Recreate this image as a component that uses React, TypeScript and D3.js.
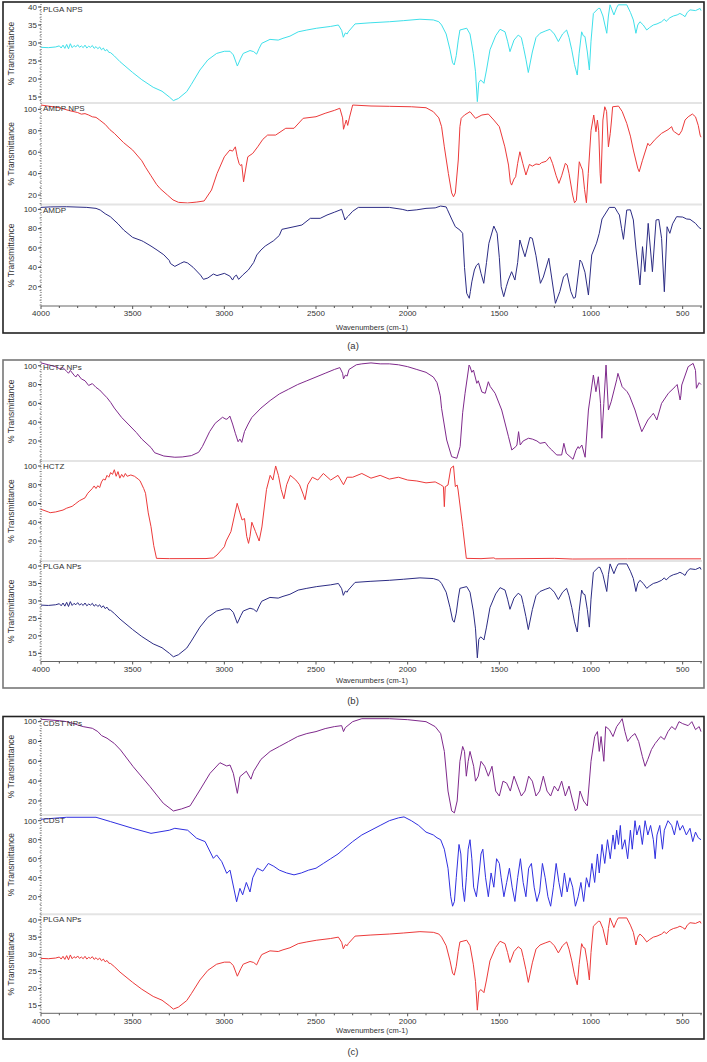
import React from "react";
import * as d3 from "d3";

// ---------- DATA ----------
const xTicks = [4000, 3500, 3000, 2500, 2000, 1500, 1000, 500];
const yTicks40 = [15, 20, 25, 30, 35, 40];
const yTicks100 = [20, 40, 60, 80, 100];

const plgaWn = [4000,3960,3920,3900,3890,3880,3870,3860,3850,3840,3830,3820,3810,3800,3790,3780,3770,3760,3750,3740,3730,3720,3710,3700,3690,3680,3670,3660,3650,3640,3630,3620,3600,3569,3500,3450,3388,3340,3300,3278,3250,3205,3180,3133,3090,3042,3000,2969,2951,2929,2910,2897,2860,2840,2824,2810,2796,2751,2706,2680,2642,2597,2550,2496,2420,2378,2360,2351,2340,2330,2324,2287,2205,2100,2024,1933,1860,1830,1815,1790,1769,1755,1746,1735,1724,1715,1678,1660,1642,1630,1620,1612,1602,1590,1584,1570,1551,1520,1496,1469,1455,1442,1420,1397,1380,1369,1355,1342,1320,1300,1278,1250,1224,1200,1178,1155,1133,1120,1105,1090,1075,1065,1051,1042,1033,1020,1009,1000,987,960,951,935,914,905,896,875,860,851,805,785,769,755,745,733,715,696,680,660,640,615,600,590,570,551,530,515,500,487,475,460,430,405,400];
const plgaT = [28.8,28.7,28.9,29.2,28.6,29.4,28.5,29.6,28.4,29.8,28.7,29.3,28.9,29.5,28.8,29.2,28.7,29.4,28.6,29.1,28.8,29.3,28.5,29.0,28.4,28.9,28.1,28.6,27.8,28.2,27.4,27.3,26.4,24.8,21.8,19.8,17.7,16.6,15.0,14.0,14.6,16.5,18.5,22.5,25.3,27.1,27.7,27.7,26.7,23.6,25.8,27.1,27.9,27.6,26.9,28.5,29.9,31.0,30.8,31.3,31.9,33.1,33.6,34.1,34.6,35.0,33.5,31.6,32.8,32.5,33.1,35.3,35.6,35.9,36.2,36.6,36.4,35.9,35.0,32.5,28.1,24.5,23.9,26.5,30.8,33.6,34.1,32.5,27.1,22,13.7,19,19.7,19.2,18.8,22.5,28.1,32.0,33.8,33.1,30.5,27.6,30.8,32.2,31.5,29.0,25.5,21.8,27.5,31.5,32.7,33.3,33.8,32.5,30.4,32.5,33.6,31.5,28.1,24.0,21.1,27.0,33.1,32.0,31.8,27.5,22.5,30.5,38.2,39.6,39.6,37.5,32.7,37.5,40.6,37.8,39.8,40.6,40.6,38.5,36.4,32.7,35.0,35.9,35.0,33.6,34.3,35.0,35.3,35.9,36.6,36.0,37.0,37.5,37.8,38.2,37.8,37.3,38.5,39.2,39.0,39.6,39.0];

const amdpNpWn = [4000,3900,3850,3800,3780,3760,3740,3720,3700,3680,3650,3624,3600,3550,3500,3450,3430,3400,3370,3350,3310,3280,3250,3200,3150,3110,3070,3040,3000,2970,2955,2940,2930,2920,2912,2905,2895,2880,2872,2845,2818,2790,2764,2720,2665,2620,2570,2500,2450,2400,2370,2355,2350,2342,2335,2327,2318,2300,2200,2100,1980,1900,1860,1830,1815,1800,1778,1760,1750,1740,1724,1715,1708,1690,1660,1630,1595,1560,1530,1500,1470,1450,1440,1433,1420,1411,1400,1388,1372,1355,1336,1320,1300,1282,1270,1245,1224,1210,1190,1175,1160,1140,1130,1120,1100,1090,1080,1064,1055,1046,1035,1025,1015,1000,985,973,965,958,950,946,935,925,915,905,895,888,882,850,830,805,785,769,745,737,720,690,680,650,615,580,560,552,545,520,505,487,470,447,430,415,405,400];
const amdpNpT = [104,101.5,99,97,95.5,96,94.7,93,92.5,90,86,81,77.6,69,62,52,46,38,30,26,20,15.5,13.2,12.6,13.5,14.5,24.7,40,55.7,62,61,65,56,49.6,47.5,48.5,32.4,48,55.7,58.9,65,72,76,76,82.3,82.3,91.6,93.1,96.3,99,101,92,81.4,86,90,85,92,104,103.1,102.8,102.4,101.5,97.8,92,83.8,65,40.2,22,18.4,22,52.7,83.8,91.6,94.7,97.8,91.6,94.7,95.6,90,83.8,65,48,32,29.3,35,37.1,49.6,60.4,49.6,38.7,48.6,47,49,48.5,50.2,51.5,55.7,49.6,38,30.9,38,49.6,48,40.2,20,12.8,15,51.1,47,43.3,25,12.8,40,80,94.7,79.1,90,80,40,30.9,90,102.4,98,65,77.6,90,102.4,103,98,86.9,75,62,45,41.8,52,68.3,66,72,77.6,81,83.8,80,79,76,80,90,93,95.6,93,85,76,74];

const amdpWn = [4000,3950,3860,3750,3700,3677,3650,3622,3580,3549,3500,3450,3440,3400,3367,3330,3300,3294,3270,3240,3220,3200,3170,3130,3114,3090,3060,3040,3000,2970,2955,2945,2934,2922,2900,2869,2840,2823,2800,2777,2731,2700,2686,2620,2577,2531,2477,2440,2400,2360,2350,2342,2330,2324,2300,2269,2100,2030,2000,1950,1900,1850,1820,1790,1784,1760,1740,1715,1700,1690,1678,1664,1658,1650,1636,1625,1613,1600,1585,1570,1557,1530,1512,1500,1490,1476,1462,1451,1433,1415,1400,1388,1375,1360,1333,1320,1300,1276,1260,1230,1215,1194,1170,1150,1131,1110,1095,1085,1060,1050,1033,1014,996,970,955,940,900,870,855,845,833,823,805,785,769,755,733,719,706,688,665,645,630,615,600,585,570,555,533,500,478,460,430,410,400];
const amdpT = [102,102.5,102.7,102,101,99.3,95.5,92.4,85,78.6,71,67.5,66.5,62,57.9,53,47,44,41,44,45.8,44.5,40,32,27.6,29,33.1,31.5,33.8,31,26.9,30.5,32,27.6,32,37.3,45,52.8,58,62,67.6,73,79.3,82,83.8,90.7,90.7,94.1,97,100,94,89,92,93,98,102,102,100,98.6,99.5,101,101.5,103.4,102.5,100,90,82,78.6,75.2,40,13.2,8,15,25,37.3,42,44.2,33.8,23.5,45,64.9,82.7,75.2,50,20,9.7,20,26.9,35.5,26.9,45,68.3,60,51,71,70,52,23.5,30,49.4,30,2.8,15,30,33.8,15,8,9,47.6,45,35,11.4,52.8,65,75.2,90,102,102,97,94.1,80,69,99.3,99.5,89,60,21.8,61.4,35.5,85.5,35.5,89,89.5,70,14.8,82,75.2,85,92.4,92,90,89.7,85.5,81,80];

const hctzNpWn = [4000,3960,3920,3900,3880,3860,3850,3840,3820,3810,3800,3780,3760,3740,3720,3700,3680,3660,3640,3620,3600,3560,3520,3480,3450,3400,3380,3330,3270,3230,3180,3140,3120,3080,3050,3010,2990,2980,2970,2955,2940,2925,2915,2905,2890,2870,2850,2800,2750,2700,2650,2600,2550,2500,2450,2400,2370,2355,2350,2340,2330,2320,2280,2250,2200,2150,2100,2050,2000,1950,1900,1860,1840,1822,1815,1787,1760,1732,1714,1700,1687,1665,1660,1650,1641,1623,1615,1595,1577,1560,1550,1523,1487,1450,1432,1410,1404,1395,1386,1370,1341,1320,1295,1278,1250,1233,1214,1187,1160,1148,1135,1098,1082,1070,1064,1050,1032,1014,987,973,960,948,941,930,918,905,890,860,853,830,803,790,760,740,723,690,670,660,650,641,615,578,541,530,514,510,505,470,443,430,425,410,400];
const hctzNpT = [103,101,99,97,98,94,92,95,90,88,91,86,84,79,81,77,74.2,70,66,61,55,45,37,29,22,13,7.5,4,2.7,3,4.4,8,14,30,38.8,45.2,43,44,46.5,38,28.2,19.2,22,18.5,30,38,45,55,63,70,75,80,84,88,92,96,98,92,86,90,89,96,101,102,103,102,102,101,99,96,93,88,82,68,54.7,21,3.3,1.6,14,50,70.7,100.7,99,93,95.4,81.3,84,72,70.7,83,78,70.7,52.9,24.5,10.4,14,15.7,29.9,15.7,20,22.9,22,20,17.5,18.5,14,10.4,5.1,5.1,17.5,6.9,0.5,10,14,12,15.7,2.7,52.9,90.1,72.4,88.3,60,22.9,60,100.7,52.9,61.7,85,91.9,77.7,72.4,68,52.9,40,29.9,42.3,47,49.4,46,42.3,60,70.7,77.7,80,63.6,68,79.5,99,102.5,95,76,82,80];

const hctzWn = [4000,3960,3950,3920,3880,3860,3830,3810,3790,3760,3745,3720,3710,3700,3690,3680,3670,3660,3650,3640,3630,3620,3610,3600,3590,3580,3570,3560,3550,3540,3530,3510,3490,3470,3460,3440,3430,3415,3400,3385,3370,3300,3100,3060,3040,3000,2990,2964,2930,2915,2903,2890,2878,2868,2860,2850,2830,2810,2795,2770,2750,2735,2720,2705,2690,2675,2660,2640,2610,2590,2570,2560,2545,2520,2490,2460,2420,2380,2350,2330,2300,2250,2200,2150,2100,2050,2000,1950,1900,1850,1820,1805,1800,1795,1780,1765,1750,1740,1730,1725,1700,1680,1600,1530,1520,1200,1100,800,400];
const hctzT = [53.8,51,50.2,51,53,55,57,60,63,66,70.9,76,78.7,76,79,77,83,86,85,90,88,93,91,96,89,94,87,91,88,92,89,90.4,89,86,84.3,76,70.9,50,35.3,15,1.5,1.2,1.3,2,5.1,13.9,20,30,60.2,50,42.4,44,25,17.5,25,40,30,20,35,75,90,85,100,90,75,65,80,90,85,80,70,64,80,88,85,92,85,90,80,88,88,92,87,90,86,88,85,84,82,83,80,78,56.6,77.9,79.7,97.5,100,78,79.7,74.4,35.3,1.5,1.2,2,1,1.5,0.8,1,1];

const cdstNpWn = [4000,3900,3860,3820,3800,3770,3720,3690,3670,3640,3600,3566,3497,3405,3333,3278,3233,3187,3133,3078,3024,2987,2969,2951,2929,2915,2880,2855,2840,2800,2750,2700,2650,2600,2550,2500,2450,2400,2360,2350,2340,2300,2250,2100,2000,1900,1850,1820,1800,1780,1760,1745,1730,1715,1700,1690,1680,1670,1660,1640,1630,1615,1600,1580,1560,1540,1520,1500,1480,1460,1440,1420,1400,1380,1360,1340,1320,1300,1280,1260,1240,1220,1200,1180,1160,1140,1120,1100,1085,1075,1060,1040,1020,1000,980,965,955,945,930,920,900,880,860,840,830,815,800,780,760,740,720,705,690,670,650,620,600,580,560,540,520,500,470,450,430,410,400];
const cdstNpT = [102.4,101,100,98,96.7,95,93.3,90,86,83.3,78,71.4,54.6,34.4,17.7,9.9,12,15,31.1,47.9,58.6,55.3,56.3,47.9,27.7,44.5,50,42,50,62,70,75,80,85,88,90,93,95,96,90,94,100,103,103,102,100,95,88,70,30,10,8,20,60,75,70,45,60,70,55,40,45,60,55,45,55,30,25,40,38,30,45,35,25,30,45,40,25,30,45,30,25,35,30,40,25,35,20,10,12,30,20,15,60,85,90,70,85,60,95,92,85,95,100,103,90,80,85,88,80,65,55,62,72,78,85,82,90,95,92,100,98,96,100,92,95,90];

const cdstWn = [4000,3860,3700,3620,3500,3400,3300,3270,3200,3151,3105,3060,3042,3014,2987,2969,2933,2915,2900,2880,2860,2845,2820,2790,2760,2730,2700,2660,2620,2580,2540,2500,2460,2420,2380,2350,2300,2250,2200,2150,2100,2050,2020,1980,1940,1900,1860,1840,1820,1800,1780,1765,1755,1745,1735,1720,1710,1700,1690,1680,1670,1660,1650,1640,1625,1610,1600,1590,1575,1560,1545,1530,1515,1500,1490,1475,1460,1445,1430,1415,1400,1385,1370,1355,1340,1325,1310,1295,1280,1265,1250,1235,1220,1205,1190,1175,1160,1145,1130,1115,1100,1085,1070,1055,1040,1025,1010,995,980,965,955,940,925,910,895,880,870,860,850,840,830,815,800,785,775,760,750,735,720,705,690,675,660,650,640,625,610,600,580,560,545,530,515,500,480,460,445,430,415,400];
const cdstT = [101.5,103.6,103.6,99,92,86.7,90,92,90,81.5,78,60.4,64,56.9,44.6,48,14.7,28.8,22,35,25,40,50,47,55,52,48,45,43,45,48,50,55,60,65,70,78,85,90,95,100,103,104,100,95,88,85,82,80,70,50,20,10,15,40,75,65,30,15,40,70,80,60,30,20,45,65,70,40,20,45,30,60,55,40,20,35,50,30,15,40,60,35,20,50,55,30,15,25,55,40,20,10,30,55,35,20,45,25,40,30,10,20,35,15,40,30,55,35,65,45,75,55,80,60,85,70,90,75,95,70,80,60,90,70,100,85,95,75,100,85,95,80,60,85,95,70,90,100,95,85,100,90,95,85,92,78,88,82,80];

// ---------- COLORS ----------
const CYAN = "#3fe0ea";
const RED = "#ec3a3a";
const NAVY = "#2c2c84";
const PURPLE = "#7f2a8c";
const BLUE = "#3030e0";

type Sub = { name: string; wn: number[]; t: number[]; color: string; y0: number; y1: number; lo: number; hi: number; ticks: number[] };
type Panel = { top: number; bottom: number; axisY: number; labelDy: number; caption: string; captionY: number; border: string; subs: Sub[] };

const panels: Panel[] = [
  {
    top: 2, bottom: 333, axisY: 306, labelDy: 21, caption: "(a)", captionY: 349, border: "#222",
    subs: [
      { name: "PLGA NPS", wn: plgaWn, t: plgaT, color: CYAN, y0: 4, y1: 103, lo: 13.33, hi: 40.83, ticks: yTicks40 },
      { name: "AMDP NPS", wn: amdpNpWn, t: amdpNpT, color: RED, y0: 103, y1: 204.5, lo: 11.2, hi: 105.9, ticks: yTicks100 },
      { name: "AMDP", wn: amdpWn, t: amdpT, color: NAVY, y0: 204.5, y1: 306, lo: 0.05, hi: 105, ticks: yTicks100 },
    ],
  },
  {
    top: 360, bottom: 688, axisY: 661.5, labelDy: 19, caption: "(b)", captionY: 704, border: "#777",
    subs: [
      { name: "HCTZ NPs", wn: hctzNpWn, t: hctzNpT, color: PURPLE, y0: 361.5, y1: 461, lo: -1.3, hi: 104.5, ticks: yTicks100 },
      { name: "HCTZ", wn: hctzWn, t: hctzT, color: RED, y0: 461, y1: 561, lo: -1.3, hi: 105.3, ticks: yTicks100 },
      { name: "PLGA NPs", wn: plgaWn, t: plgaT, color: NAVY, y0: 561, y1: 661.5, lo: 12.65, hi: 41.43, ticks: yTicks40 },
    ],
  },
  {
    top: 716.5, bottom: 1039, axisY: 1013.3, labelDy: 17.5, caption: "(c)", captionY: 1055, border: "#222",
    subs: [
      { name: "CDST NPs", wn: cdstNpWn, t: cdstNpT, color: PURPLE, y0: 718, y1: 815, lo: 5.85, hi: 103.7, ticks: yTicks100 },
      { name: "CDST", wn: cdstWn, t: cdstT, color: BLUE, y0: 815, y1: 914.3, lo: 1.5, hi: 106, ticks: yTicks100 },
      { name: "PLGA NPs", wn: plgaWn, t: plgaT, color: RED, y0: 914.3, y1: 1013.3, lo: 12.78, hi: 41.66, ticks: yTicks40 },
    ],
  },
];

const X0 = 41;
const X1 = 701;
const FONT = "'Liberation Sans', Arial, sans-serif";

export default function App() {
  const x = d3.scaleLinear().domain([4000, 400]).range([X0, X1]);
  const minor = d3.range(4000, 399, -100);

  return (
    <svg width={707} height={1062} style={{ position: "absolute", left: 0, top: 0, background: "#fff" }} fontFamily={FONT}>
      <rect x={0} y={0} width={707} height={1062} fill="#fff" />
      {panels.map((p, pi) => (
        <g key={pi}>
          <rect x={3} y={p.top} width={701} height={p.bottom - p.top} fill="none" stroke={p.border} strokeWidth={1.6} />
          {p.subs.map((s, si) => {
            const y = d3.scaleLinear().domain([s.lo, s.hi]).range([s.y1, s.y0]);
            const line = d3.line<number>().x((_, i) => x(s.wn[i])).y((v) => y(v));
            const mid = (s.y0 + s.y1) / 2;
            const minorY = d3.range(Math.ceil(s.lo), Math.floor(s.hi) + 1, s.ticks[1] - s.ticks[0] > 10 ? 5 : 1);
            return (
              <g key={si}>
                {si > 0 && <line x1={X0} x2={X1 + 1} y1={s.y0} y2={s.y0} stroke="#e4e4e4" strokeWidth={2} />}
                <line x1={X0} x2={X0} y1={s.y0} y2={s.y1} stroke="#555" strokeWidth={1} strokeDasharray="1,1.5" />
                {minorY.map((v) => (
                  <line key={"m" + v} x1={X0 - 1.5} x2={X0} y1={y(v)} y2={y(v)} stroke="#777" strokeWidth={0.8} />
                ))}
                {s.ticks.map((v) => (
                  <g key={v}>
                    <line x1={X0 - 3} x2={X0} y1={y(v)} y2={y(v)} stroke="#444" strokeWidth={1} />
                    <text x={X0 - 4} y={y(v)} dy="0.35em" textAnchor="end" fontSize={8} fill="#333">{v}</text>
                  </g>
                ))}
                <text transform={`translate(11,${mid}) rotate(-90)`} textAnchor="middle" dy="0.35em" fontSize={8.5} fill="#333">% Transmittance</text>
                <path d={line(s.t) || ""} fill="none" stroke={s.color} strokeWidth={1} strokeLinejoin="round" />
                <text x={X0 + 2} y={s.y0 + 8} fontSize={8} fill="#333">{s.name}</text>
              </g>
            );
          })}
          <line x1={X0} x2={X1 + 1} y1={p.axisY} y2={p.axisY} stroke="#666" strokeWidth={1} />
          {minor.map((w) => (
            <line key={w} x1={x(w)} x2={x(w)} y1={p.axisY} y2={p.axisY + (w % 500 === 0 ? 3 : 2)} stroke="#555" strokeWidth={1} />
          ))}
          {xTicks.map((w) => (
            <text key={w} x={x(w)} y={p.axisY + 7.5} dy="0.35em" textAnchor="middle" fontSize={8} fill="#333">{w}</text>
          ))}
          <text x={372} y={p.axisY + p.labelDy} dy="0.35em" textAnchor="middle" fontSize={7.5} fill="#333">Wavenumbers (cm-1)</text>
          <text x={353} y={p.captionY} textAnchor="middle" fontSize={9.5} fill="#333">{p.caption}</text>
        </g>
      ))}
    </svg>
  );
}
